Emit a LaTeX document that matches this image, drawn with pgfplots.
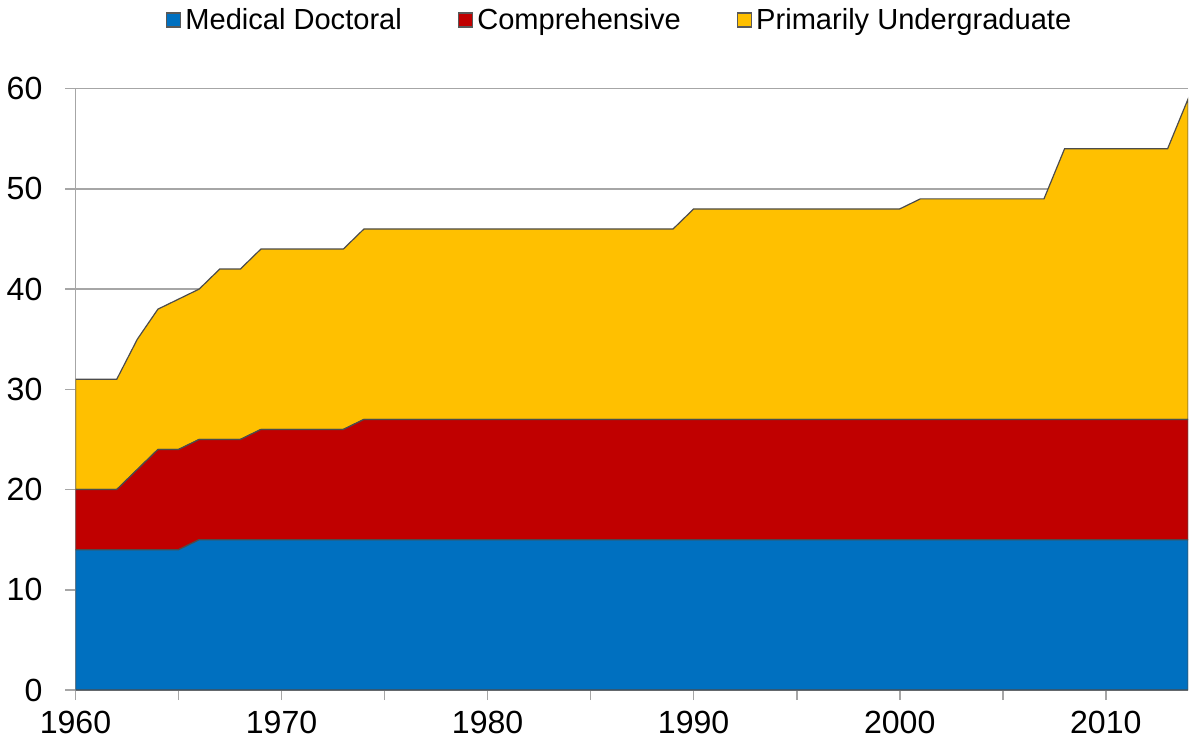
\documentclass[border=0pt]{standalone}
\usepackage{pgfplots}
\pgfplotsset{compat=1.18}
\usepackage{pgfplotstable}
\usepackage{fontspec}
\setmainfont{Liberation Sans}
\definecolor{mdblue}{HTML}{0070C0}
\definecolor{compred}{HTML}{C00000}
\definecolor{puyellow}{HTML}{FFC000}
\definecolor{gridgray}{HTML}{A6A6A6}

% year, medical doctoral, comprehensive, primarily undergraduate
\pgfplotstableread{
year md comp pu
1960 14 6 11
1961 14 6 11
1962 14 6 11
1963 14 8 13
1964 14 10 14
1965 14 10 15
1966 15 10 15
1967 15 10 17
1968 15 10 17
1969 15 11 18
1970 15 11 18
1971 15 11 18
1972 15 11 18
1973 15 11 18
1974 15 12 19
1975 15 12 19
1976 15 12 19
1977 15 12 19
1978 15 12 19
1979 15 12 19
1980 15 12 19
1981 15 12 19
1982 15 12 19
1983 15 12 19
1984 15 12 19
1985 15 12 19
1986 15 12 19
1987 15 12 19
1988 15 12 19
1989 15 12 19
1990 15 12 21
1991 15 12 21
1992 15 12 21
1993 15 12 21
1994 15 12 21
1995 15 12 21
1996 15 12 21
1997 15 12 21
1998 15 12 21
1999 15 12 21
2000 15 12 21
2001 15 12 22
2002 15 12 22
2003 15 12 22
2004 15 12 22
2005 15 12 22
2006 15 12 22
2007 15 12 22
2008 15 12 27
2009 15 12 27
2010 15 12 27
2011 15 12 27
2012 15 12 27
2013 15 12 27
2014 15 12 32
}\unis

\begin{document}
\begin{tikzpicture}
\begin{axis}[
    scale only axis,
    width=555pt, height=300pt,
    xmin=1960, xmax=2014,
    ymin=0, ymax=60,
    stack plots=y,
    axis lines*=left,
    axis line style={gridgray, line width=0.8pt},
    ymajorgrids,
    grid style={gridgray, line width=0.8pt},
    xtick={1960,1970,...,2010},
    minor xtick={1965,1975,...,2005},
    ytick={0,10,...,60},
    tick align=outside,
    major tick length=5pt,
    minor tick length=5pt,
    tick style={gridgray, line width=0.8pt},
    xticklabel style={yshift=-2pt},
    yticklabel style={xshift=-8pt},
    /pgf/number format/1000 sep={},
    /pgf/number format/assume math mode=true,
    ticklabel style={font=\fontsize{16}{18}\selectfont},
    legend style={
        at={(0.49,1)}, anchor=south, yshift=24pt,
        draw=none, font=\fontsize{14.5}{16}\selectfont,
        /tikz/every even column/.append style={column sep=26pt},
    },
    legend columns=3,
    legend image code/.code={
        \draw[#1, draw=gray!70!black, line width=0.6pt] (-3pt,-3.5pt) rectangle (4pt,3.5pt);
    },
]
\addplot[fill=mdblue, draw=black!70, line width=0.6pt] table[x=year, y=md] {\unis} \closedcycle;
\addplot[fill=compred, draw=black!70, line width=0.6pt] table[x=year, y=comp] {\unis} \closedcycle;
\addplot[fill=puyellow, draw=black!70, line width=0.6pt] table[x=year, y=pu] {\unis} \closedcycle;
\legend{Medical Doctoral, Comprehensive, Primarily Undergraduate}
\end{axis}
\end{tikzpicture}
\end{document}
